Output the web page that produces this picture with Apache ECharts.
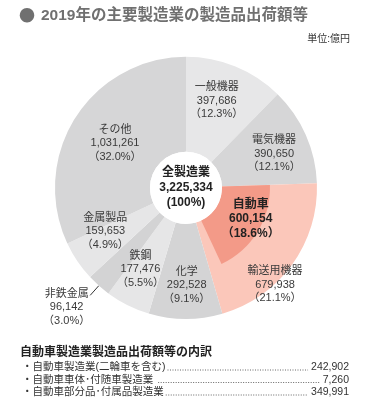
<!DOCTYPE html>
<html><head><meta charset="utf-8">
<script src="https://cdn.jsdelivr.net/npm/echarts@6/dist/echarts.min.js"></script>
<style>html,body{margin:0;padding:0;background:#fff}#c{width:369px;height:412px}</style>
</head><body><div id="c"></div>
<script>
const categories = ['一般機器','電気機器','輸送用機器','化学','鉄鋼','非鉄金属','金属製品','その他'];
const values = [397686, 390650, 679938, 292528, 177476, 96142, 159653, 1031261];
const percents = ['12.3%','12.1%','21.1%','9.1%','5.5%','3.0%','4.9%','32.0%'];
const totalLabel = '全製造業';
const totalValue = 3225334;
const carLabel = '自動車';
const carValue = 600154;
const carPercent = '18.6%';
const titleText = '2019年の主要製造業の製造品出荷額等';
const breakdownTitle = '自動車製造業製造品出荷額等の内訳';
const breakdownLabels = ['・自動車製造業(二輪車を含む)','・自動車車体･付随車製造業 ','・自動車部分品･付属品製造業'];
const breakdownValues = [242902, 7260, 349991];

const FONT = '"Liberation Sans","Noto Sans CJK JP",sans-serif';
const colors = ['#e7e7e8','#d6d6d7','#fbc7ba','#d4d4d5','#e6e6e7','#d3d3d4','#e6e6e7','#d6d6d7'];
const fmt = v => v.toLocaleString('en-US');
// label adjustments (layout only)
const adj = [[-2,-7],[9,1],[19,46],[1,11],[-7,4],[5,12],[-9,-5],[2,2]];

const center = ['50.4%','45.6%'];
const r0 = 36, r1 = 131;

const chart = echarts.init(document.getElementById('c'), null, {renderer:'canvas'});

const outerData = categories.map((n,i)=>({
  name:n, value:values[i], pct:percents[i],
  itemStyle:{color:colors[i]},
  label: n==='非鉄金属' ? {position:'outside', formatter: p => '{c|'+p.name+'}\n{c|'+fmt(p.value)+'}\n{c|（'+p.data.pct+'）}'} : undefined,
  labelLine: n==='非鉄金属' ? {show:true, length:13, length2:0, lineStyle:{color:'#333', width:1}} : undefined
}));

const idxCar = categories.indexOf('輸送用機器');
let before = 0; for (let i=0;i<idxCar;i++) before += values[i];
const innerData = [
  {name:'_a', value:before, itemStyle:{color:'rgba(0,0,0,0)'}, label:{show:false}},
  {name:carLabel, value:carValue, itemStyle:{color:'#f39a88'}},
  {name:'_b', value:totalValue-before-carValue, itemStyle:{color:'rgba(0,0,0,0)'}, label:{show:false}}
];

const measure = (() => { const cv=document.createElement('canvas').getContext('2d'); return (t,f)=>{cv.font=f;return cv.measureText(t).width;}; })();

const bfont = '10.5px ' + FONT;
const graphics = [
  {type:'text', left:19, top:7, style:{text:'●', font:'16px "Noto Sans CJK JP",sans-serif', fill:'#707070'}},
  {type:'text', left:41, top:8, style:{text:titleText, font:'bold 15.5px '+FONT, fill:'#707070'}},
  {type:'text', right:19, top:34, style:{text:'単位:億円', font:'10px '+FONT, fill:'#333'}},
  {type:'text', left:20, top:347, style:{text:breakdownTitle, font:'bold 12px '+FONT, fill:'#222'}}
];
breakdownLabels.forEach((t,i)=>{
  const y = 362 + i*12.5;
  const vt = fmt(breakdownValues[i]);
  const lw = measure(t, bfont), vw = measure(vt, bfont);
  graphics.push({type:'text', left:22, top:y, style:{text:t, font:bfont, fill:'#333'}});
  graphics.push({type:'text', right:20, top:y, style:{text:vt, font:bfont, fill:'#333', align:'right'}});
  graphics.push({type:'line', shape:{x1:22+lw+2, y1:y+8, x2:369-20-vw-3, y2:y+8}, style:{stroke:'#666', lineWidth:1, lineDash:[1,1.5]}});
});

chart.setOption({
  animation:false,
  textStyle:{fontFamily:FONT},
  graphic:graphics,
  series:[
    {
      type:'pie', center:center, radius:[r0,r1], startAngle:90, clockwise:true,
      silent:true, avoidLabelOverlap:false,
      data:outerData,
      label:{show:true, position:'inside', color:'#3a3a3a', fontSize:11, lineHeight:13.5, fontFamily:FONT,
        formatter: p => p.name+'\n'+fmt(p.value)+'\n（'+p.data.pct+'）',
        rich:{c:{align:'center', fontSize:11, lineHeight:13.5, color:'#3a3a3a', fontFamily:FONT}}},
      labelLine:{show:false},
      labelLayout: p => ({dx:adj[p.dataIndex][0], dy:adj[p.dataIndex][1]})
    },
    {
      type:'pie', center:center, radius:[r0,84], startAngle:90, clockwise:true,
      silent:true, avoidLabelOverlap:false,
      data:innerData,
      label:{show:true, position:'inside', color:'#222', fontSize:12, fontWeight:'bold', lineHeight:14.5, fontFamily:FONT,
        formatter: p => p.name+'\n'+fmt(p.value)+'\n（'+carPercent+'）'},
      labelLine:{show:false},
      labelLayout: p => p.dataIndex===1 ? {dx:11, dy:-2} : {}
    },
    {
      type:'pie', center:center, radius:[0,r0], silent:true,
      data:[{name:totalLabel, value:totalValue, itemStyle:{color:'#fff'}}],
      label:{show:true, position:'center', color:'#222', fontSize:12, fontWeight:'bold', lineHeight:15, fontFamily:FONT,
        formatter: p => p.name+'\n'+fmt(p.value)+'\n(100%)'},
      labelLine:{show:false}
    }
  ]
});
</script></body></html>
